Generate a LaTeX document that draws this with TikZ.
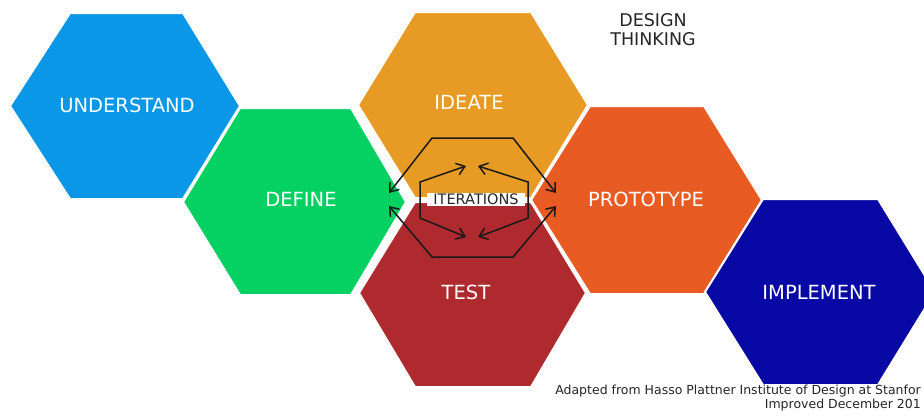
\documentclass[tikz,border=0pt]{standalone}
\usepackage{fontspec}
\setmainfont{DejaVu Sans}
\usetikzlibrary{arrows.meta}
\definecolor{cblue}{HTML}{0A97E8}
\definecolor{cgreen}{HTML}{05D163}
\definecolor{corange}{HTML}{E79A24}
\definecolor{cred}{HTML}{E85C24}
\definecolor{cdark}{HTML}{AF2A2E}
\definecolor{cnavy}{HTML}{0808A5}
\definecolor{ctext}{HTML}{262626}
\tikzset{
  hexshape/.style={draw=white,line width=2pt,line join=miter},
  hexlabel/.style={text=white,font=\fontsize{19.5}{22}\selectfont,inner sep=0pt},
  headtext/.style={text=ctext,font=\fontsize{17.5}{19}\selectfont,align=center,inner sep=0pt},
  credit/.style={text=ctext,font=\fontsize{12.5}{14}\selectfont,align=right,inner sep=0pt,anchor=north east},
  iterlabel/.style={fill=white,inner xsep=0pt,inner ysep=0pt,minimum width=98pt,minimum height=13pt,text=ctext,font=\fontsize{14.5}{15}\selectfont},
  iterarrow/.style={draw=black!90,line width=1.5pt,{Straight Barb[length=8pt,width=12pt]}-{Straight Barb[length=8pt,width=12pt]}},
}
\newcommand{\hexa}[8]{%
  \fill[#8] (#2,#6) -- (#3,#5) -- (#4,#5) -- (#1,#6) -- (#4,#7) -- (#3,#7) -- cycle;
  \draw[hexshape] (#2,#6) -- (#3,#5) -- (#4,#5) -- (#1,#6) -- (#4,#7) -- (#3,#7) -- cycle;
}
\begin{document}
\begin{tikzpicture}[x=1pt,y=-1pt]
\useasboundingbox (0,0) rectangle (924,416);
\fill[white] (0,0) rectangle (924,416);
\hexa{240}{10}{70}{183}{13}{106}{199}{cblue}
\hexa{588}{358}{415}{531}{12}{105}{198}{corange}
\hexa{586}{359}{415}{531}{202}{293}{387}{cdark}
\hexa{406}{183}{240}{351}{108}{202}{295}{cgreen}
\hexa{762}{531}{590}{704}{106}{200}{294}{cred}
\hexa{935}{705}{763}{878}{199}{292}{385}{cnavy}
\node[hexlabel] (understand) at (127,105) {UNDERSTAND};
\node[hexlabel] (define) at (301,199) {DEFINE};
\node[hexlabel] (ideate) at (469,102) {IDEATE};
\node[hexlabel] (prototype) at (646,199) {PROTOTYPE};
\node[hexlabel] (testn) at (466,292) {TEST};
\node[hexlabel] (implement) at (819,292) {IMPLEMENT};
\node[headtext] (title) at (653,30) {DESIGN\\THINKING};
\node[iterlabel] (iter) at (476,199.5) {ITERATIONS};
\node[credit] (creditn) at (921,385) {Adapted from Hasso Plattner Institute of Design at Stanfor\\Improved December 201};
\coordinate (otl) at (389,193); \coordinate (otr) at (556,193);
\coordinate (obl) at (389,206); \coordinate (obr) at (556,206);
\coordinate (itl) at (466,166); \coordinate (itr) at (478,166);
\coordinate (ibl) at (466,237); \coordinate (ibr) at (478,237);
\draw[iterarrow] (otl) -- (432,138) -- (513,138) -- (otr);
\draw[iterarrow] (obl) -- (432,257) -- (513,257) -- (obr);
\draw[iterarrow] (itl) -- (420,182) -- (420,218) -- (ibl);
\draw[iterarrow] (itr) -- (528,182) -- (528,218) -- (ibr);
\end{tikzpicture}
\end{document}
